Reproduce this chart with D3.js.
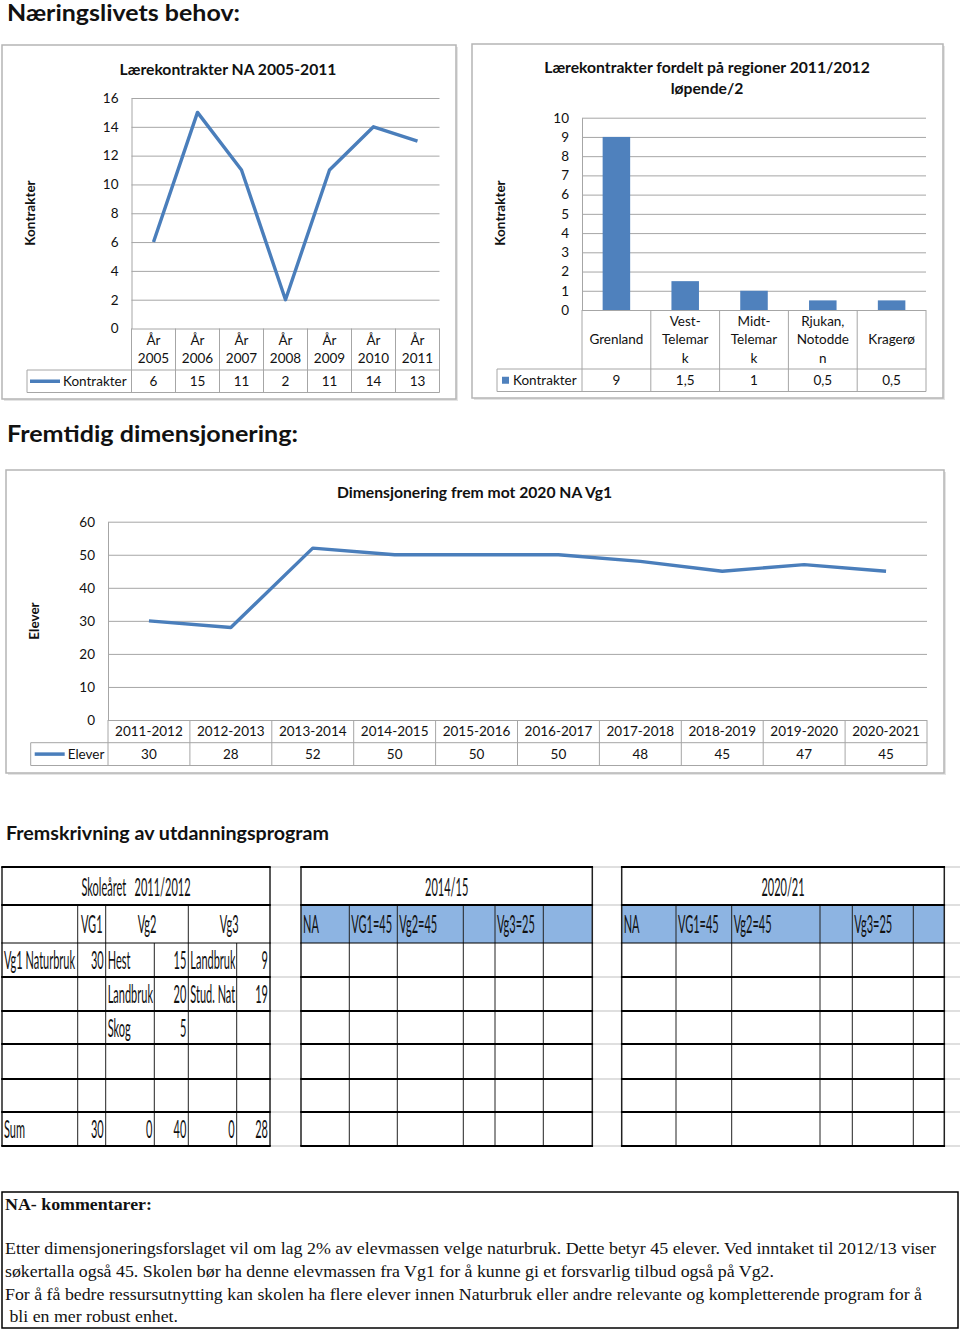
<!DOCTYPE html>
<html><head><meta charset="utf-8">
<script src="https://cdn.jsdelivr.net/npm/d3@7"></script>
<style>body{margin:0;background:#fff} svg{display:block} text{fill:#111}</style>
</head><body><svg id="c" width="960" height="1330" font-family="Lato, 'Open Sans', sans-serif"></svg>
<script>
// ---------------- DATA ----------------
const years1 = ["År 2005","År 2006","År 2007","År 2008","År 2009","År 2010","År 2011"];
const kontrakter1 = [6,15,11,2,11,14,13];
const ticks1 = [0,2,4,6,8,10,12,14,16];

const regions2 = ["Grenland","Vest-Telemark","Midt-Telemark","Rjukan, Notodden","Kragerø"];
const regionLabels2 = [["Grenland"],["Vest-","Telemar","k"],["Midt-","Telemar","k"],["Rjukan,","Notodde","n"],["Kragerø"]];
const kontrakter2 = [9,1.5,1,0.5,0.5];
const ticks2 = [0,1,2,3,4,5,6,7,8,9,10];

const years3 = ["2011-2012","2012-2013","2013-2014","2014-2015","2015-2016","2016-2017","2017-2018","2018-2019","2019-2020","2020-2021"];
const elever3 = [30,28,52,50,50,50,48,45,47,45];
const ticks3 = [0,10,20,30,40,50,60];

const t1Title = "Skoleåret   2011/2012";
const t1Head = ["", "VG1", "Vg2", "Vg3"];
const t1Body = [
  ["Vg1 Naturbruk","30","Hest","15","Landbruk","9"],
  ["","","Landbruk,","20","Stud. Natu","19"],
  ["","","Skog","5","",""],
  ["","","","","",""],
  ["","","","","",""],
  ["Sum","30","0","40","0","28"]
];
const t2Title = "2014/15";
const t3Title = "2020/21";
const tNAHead = ["NA","VG1=45","Vg2=45","","Vg3=25",""];
const tEmptyBody = [0,1,2,3,4,5].map(()=>["","","","","",""]);

const headings = ["Næringslivets behov:","Fremtidig dimensjonering:","Fremskrivning av utdanningsprogram"];
const commentTitle = "NA- kommentarer:";
const comments = [
  "Etter dimensjoneringsforslaget vil om lag 2% av elevmassen velge naturbruk. Dette betyr 45 elever. Ved inntaket til 2012/13 viser",
  "søkertalla også 45. Skolen bør ha denne elevmassen fra Vg1 for å kunne gi et forsvarlig tilbud også på Vg2.",
  "For å få bedre ressursutnytting kan skolen ha flere elever innen Naturbruk eller andre relevante og kompletterende program for å",
  " bli en mer robust enhet."
];

// ---------------- DRAWING ----------------
const svg = d3.select("#c");
const LINEC = "#4A7EBB", BARC = "#4F81BD", GRID = "#a6a6a6", FRAME = "#b5b5b5";
const SERIF = "'Liberation Serif','Times New Roman',serif";
const fmt = v => String(v).replace(".", ",");

const headLayout = [{x:7,y:21,fs:22,w:233},{x:7,y:442,fs:22,w:291},{x:6,y:840,fs:18,w:323}];
headings.forEach((h,i)=>{
  const L = headLayout[i];
  svg.append("text").attr("x",L.x).attr("y",L.y).attr("font-size",L.fs).attr("font-weight",700)
    .attr("textLength",L.w).attr("lengthAdjust","spacingAndGlyphs").text(h);
});

function frame(x,y,w,h){
  svg.append("rect").attr("x",x+2).attr("y",y+2).attr("width",w).attr("height",h).attr("fill","#e4e4e4");
  svg.append("rect").attr("x",x).attr("y",y).attr("width",w).attr("height",h)
    .attr("fill","#fff").attr("stroke",FRAME).attr("stroke-width",1.5);
}

function chart(cfg){
  frame(cfg.fx,cfg.fy,cfg.fw,cfg.fh);
  const g = svg.append("g");
  const x = d3.scaleBand().domain(cfg.cats).range([cfg.x0,cfg.x1]).padding(0);
  const y = d3.scaleLinear().domain([0,cfg.ticks[cfg.ticks.length-1]]).range([cfg.yb,cfg.yt]);
  cfg.title.forEach((t,i)=>g.append("text").attr("x",cfg.tx).attr("y",cfg.ty[i]).attr("text-anchor","middle")
    .attr("font-size",15.7).attr("font-weight",700).text(t));
  g.append("text").attr("transform",`translate(${cfg.ytx},${cfg.yty}) rotate(-90)`).attr("text-anchor","middle")
    .attr("font-size",13.5).attr("font-weight",700).text(cfg.yTitle);
  g.append("g").attr("transform",`translate(${cfg.x0},0)`)
    .call(d3.axisLeft(y).tickValues(cfg.ticks).tickSize(-(cfg.x1-cfg.x0)).tickSizeOuter(0).tickFormat(""))
    .call(s=>s.select(".domain").remove())
    .selectAll("line").attr("stroke",GRID).attr("stroke-width",1);
  g.append("g").attr("transform",`translate(${cfg.x0},0)`)
    .call(d3.axisLeft(y).tickValues(cfg.ticks).tickSize(0).tickSizeOuter(0).tickPadding(13))
    .call(s=>s.select(".domain").attr("stroke",GRID))
    .selectAll("text").attr("font-size",13.5).attr("font-family","Lato").attr("fill","#111");
  const tg = g.append("g").attr("stroke",GRID).attr("stroke-width",1);
  tg.append("line").attr("x1",cfg.legX).attr("x2",cfg.x1).attr("y1",cfg.rm).attr("y2",cfg.rm);
  tg.append("line").attr("x1",cfg.legX).attr("x2",cfg.x1).attr("y1",cfg.rb).attr("y2",cfg.rb);
  tg.append("line").attr("x1",cfg.legX).attr("x2",cfg.legX).attr("y1",cfg.rm).attr("y2",cfg.rb);
  const bounds = cfg.cats.map(c=>x(c)).concat([cfg.x1]);
  bounds.forEach(b=>tg.append("line").attr("x1",b).attr("x2",b).attr("y1",cfg.yb).attr("y2",cfg.rb));
  const cc = (cfg.yb+cfg.rm)/2;
  cfg.cats.forEach((c,i)=>{
    const lines = cfg.catLines[i];
    lines.forEach((ln,j)=>g.append("text").attr("x",x(c)+x.bandwidth()/2)
      .attr("y",cc + (j-(lines.length-1)/2)*cfg.lh + 4.7).attr("text-anchor","middle").attr("font-size",13.5).text(ln));
  });
  const dc = (cfg.rm+cfg.rb)/2;
  cfg.cats.forEach((c,i)=>g.append("text").attr("x",x(c)+x.bandwidth()/2).attr("y",dc+4.7)
    .attr("text-anchor","middle").attr("font-size",13.5).text(fmt(cfg.values[i])));
  if(cfg.type==="line"){
    g.append("line").attr("x1",cfg.legX+cfg.legOff).attr("x2",cfg.legX+cfg.legOff+30).attr("y1",dc).attr("y2",dc)
      .attr("stroke",LINEC).attr("stroke-width",3.5);
    g.append("text").attr("x",cfg.legX+cfg.legOff+33).attr("y",dc+4.7).attr("font-size",13.5).text(cfg.seriesName);
  } else {
    g.append("rect").attr("x",cfg.legX+5).attr("y",dc-3.5).attr("width",7).attr("height",7).attr("fill",BARC);
    g.append("text").attr("x",cfg.legX+16).attr("y",dc+4.7).attr("font-size",13.5).text(cfg.seriesName);
  }
  if(cfg.type==="line"){
    const line = d3.line().x((d,i)=>x(cfg.cats[i])+x.bandwidth()/2).y(d=>y(d));
    g.append("path").datum(cfg.values).attr("d",line).attr("fill","none").attr("stroke",LINEC)
      .attr("stroke-width",3.4).attr("stroke-linejoin","round").attr("stroke-linecap","butt");
  } else {
    const bw = x.bandwidth()*0.4;
    g.selectAll(".bar").data(cfg.values).join("rect")
      .attr("x",(d,i)=>x(cfg.cats[i])+x.bandwidth()/2-bw/2).attr("width",bw)
      .attr("y",d=>y(d)).attr("height",d=>y(0)-y(d)).attr("fill",BARC);
  }
}

chart({type:"line", fx:2,fy:45,fw:454,fh:354, cats:years1, catLines:years1.map(s=>s.split(" ")), values:kontrakter1,
  ticks:ticks1, x0:131.5,x1:439.5, yb:328.5, yt:98, rm:370, rb:392.5, legX:27, legOff:3, lh:18,
  title:["Lærekontrakter NA 2005-2011"], tx:228, ty:[74.5], yTitle:"Kontrakter", ytx:34.5, yty:213, seriesName:"Kontrakter"});

chart({type:"bar", fx:472,fy:44,fw:471,fh:354, cats:regions2, catLines:regionLabels2, values:kontrakter2,
  ticks:ticks2, x0:582,x1:926, yb:310, yt:117.7, rm:369, rb:391.5, legX:497, lh:18.5,
  title:["Lærekontrakter fordelt på regioner 2011/2012","løpende/2"], tx:707, ty:[72.5,94], yTitle:"Kontrakter", ytx:505, yty:213, seriesName:"Kontrakter"});

chart({type:"line", fx:6,fy:470,fw:938,fh:303, cats:years3, catLines:years3.map(s=>[s]), values:elever3,
  ticks:ticks3, x0:108,x1:927, yb:720, yt:521.7, rm:742.7, rb:765.5, legX:30.7, legOff:4, lh:18,
  title:["Dimensjonering frem mot 2020 NA Vg1"], tx:474.5, ty:[498], yTitle:"Elever", ytx:38.5, yty:621, seriesName:"Elever"});

// ---------------- TABLES ----------------
const rowsY = [867,905,943,977,1011,1044,1079,1112,1146];
const FS = 25, SX = 0.44;
let clipId = 0;
const defs = svg.append("defs");
function ntext(g,x,y,str,anchor,clip){
  const t = g.append("text").attr("transform",`translate(${x},${y}) scale(${SX},1)`)
    .attr("text-anchor",anchor).attr("font-size",FS).style("white-space","pre").text(str);
  if(clip) t.attr("clip-path",`url(#${clip})`);
  return t;
}

function table(cols, title, headSpans, body, fill){
  const g = svg.append("g");
  const L = cols[0], R = cols[cols.length-1];
  if(fill) g.append("rect").attr("x",L).attr("y",rowsY[1]).attr("width",R-L).attr("height",rowsY[2]-rowsY[1]).attr("fill",fill);
  ntext(g,(L+R)/2,rowsY[0]+29,title,"middle");
  headSpans.forEach(s=>{
    const a = cols[s[0]], b = cols[s[1]];
    if(s[2]!=="") {
      if(s[3]==="middle") ntext(g,(a+b)/2,rowsY[1]+28,s[2],"middle");
      else ntext(g,a+2,rowsY[1]+28,s[2],"start");
    }
  });
  body.forEach((row,r)=>{
    const top = rowsY[2+r], bot = rowsY[3+r], by = (top+bot)/2 + 9;
    row.forEach((v,c)=>{
      if(v==="") return;
      const a = cols[c], b = cols[c+1];
      if(!isNaN(+v)) ntext(g,b-2,by,v,"end");
      else {
        const id = "clp"+(clipId++);
        defs.append("clipPath").attr("id",id).append("rect")
          .attr("x",-1/SX).attr("y",-40).attr("width",(b-a-2.3)/SX).attr("height",60);
        ntext(g,a+2,by,v,"start",id);
      }
    });
  });
  const vg = g.append("g").attr("stroke","#222").attr("stroke-width",1);
  [L,R].forEach(xx=>vg.append("line").attr("x1",xx).attr("x2",xx).attr("y1",rowsY[0]).attr("y2",rowsY[8]).attr("stroke-width",1.5));
  headSpans.forEach(s=>{ if(s[0]>0){ const xx=cols[s[0]]; vg.append("line").attr("x1",xx).attr("x2",xx).attr("y1",rowsY[1]).attr("y2",rowsY[2]); }});
  cols.slice(1,-1).forEach(xx=>vg.append("line").attr("x1",xx).attr("x2",xx).attr("y1",rowsY[2]).attr("y2",rowsY[8]));
  rowsY.forEach((yy,i)=>g.append("line").attr("x1",L-0.75).attr("x2",R+0.75).attr("y1",yy).attr("y2",yy)
    .attr("stroke","#000").attr("stroke-width",i===2?1:2));
}

[[270,301],[592,622],[944,960]].forEach(gp=>rowsY.forEach(yy=>svg.append("line").attr("x1",gp[0]).attr("x2",gp[1])
  .attr("y1",yy).attr("y2",yy).attr("stroke","#d4d4d4").attr("stroke-width",1.5)));

const cols1 = [2,77.7,105.7,154.3,188.3,236.7,270];
const cols2 = [301,349.3,397.3,463.3,495,543.3,592.3];
const cols3 = [621.7,676,731.7,820,852.3,913.3,944.3];
table(cols1, t1Title, [[0,1,t1Head[0],"middle"],[1,2,t1Head[1],"middle"],[2,4,t1Head[2],"middle"],[4,6,t1Head[3],"middle"]], t1Body, null);
const naSpans = tNAHead.map((h,i)=>[i,i+1,h,"start"]);
table(cols2, t2Title, naSpans, tEmptyBody, "#8DB4E2");
table(cols3, t3Title, naSpans, tEmptyBody, "#8DB4E2");

// ---------------- COMMENTS ----------------
svg.append("rect").attr("x",2).attr("y",1192).attr("width",956).attr("height",136)
  .attr("fill","none").attr("stroke","#000").attr("stroke-width",1.5);
svg.append("text").attr("x",5).attr("y",1210).style("font-family",SERIF)
  .attr("font-weight",700).attr("font-size",16.5).attr("textLength",147).attr("lengthAdjust","spacingAndGlyphs").text(commentTitle);
const cLayout = [{y:1254,w:931},{y:1277,w:769},{y:1299.5,w:917},{y:1322,w:173}];
comments.forEach((c,i)=>svg.append("text").attr("x",5).attr("y",cLayout[i].y)
  .style("font-family",SERIF).style("white-space","pre").attr("font-size",16.5)
  .attr("textLength",cLayout[i].w).attr("lengthAdjust","spacingAndGlyphs").text(c));
</script></body></html>
